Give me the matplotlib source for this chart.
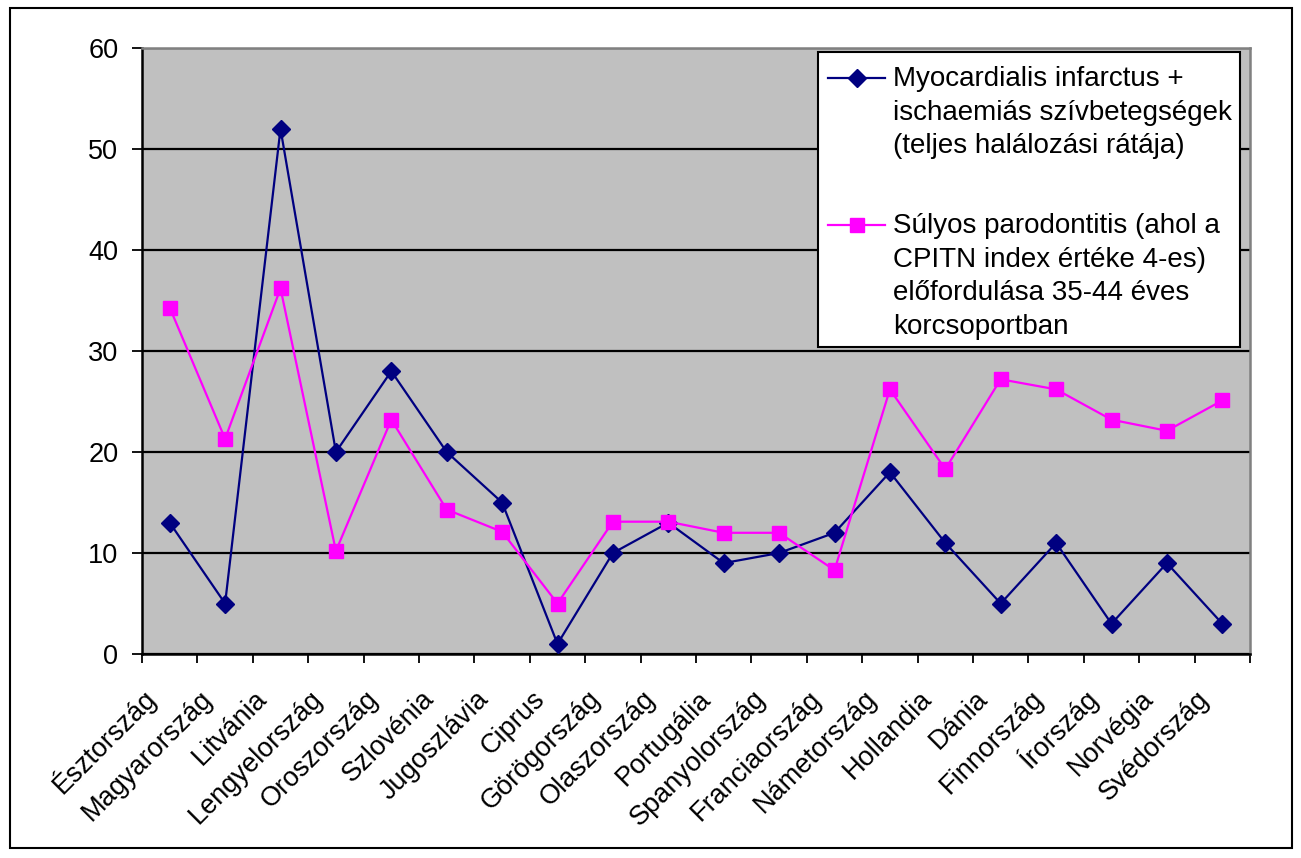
#------------------------------------------------------------------------------
# IMPORTS
#------------------------------------------------------------------------------
import matplotlib
matplotlib.use("Agg")
from matplotlib import pyplot as plt
from matplotlib.patches import Rectangle
from matplotlib.lines import Line2D
from matplotlib.transforms import ScaledTranslation
import numpy as np

#------------------------------------------------------------------------------
# DATA
#------------------------------------------------------------------------------
countries = ["Észtország", "Magyarország", "Litvánia", "Lengyelország",
             "Oroszország", "Szlovénia", "Jugoszlávia", "Ciprus",
             "Görögország", "Olaszország", "Portugália", "Spanyolország",
             "Franciaország", "Námetország", "Hollandia", "Dánia",
             "Finnország", "Írország", "Norvégia", "Svédország"]

infarctus = [13, 5, 52, 20, 28, 20, 15, 1, 10, 13,
             9, 10, 12, 18, 11, 5, 11, 3, 9, 3]

parodontitis = [34.3, 21.3, 36.2, 10.2, 23.2, 14.3, 12.1, 5, 13.1, 13.1,
                12, 12, 8.3, 26.2, 18.3, 27.2, 26.2, 23.2, 22.1, 25.1]

label_inf = ("Myocardialis infarctus +\nischaemiás szívbetegségek\n"
             "(teljes halálozási rátája)")
label_par = ("Súlyos parodontitis (ahol a\nCPITN index értéke 4-es)\n"
             "előfordulása 35-44 éves\nkorcsoportban")

NAVY = "#000080"
MAGENTA = "#FF00FF"
W, H = 1301, 858

#------------------------------------------------------------------------------
# FUNCTIONS
#------------------------------------------------------------------------------
def px(x, y):
    """ Pixel position (from top left) to figure fraction. """
    return x / W, 1 - y / H


def legend_entry(fig, y_handle, y_top, color, marker, ms, label):
    x0, yh = px(828, y_handle)
    x1, _ = px(885, y_handle)
    xm, _ = px(857, y_handle)
    fig.add_artist(Line2D([x0, x1], [yh, yh], transform=fig.transFigure,
                          color=color, linewidth=1.6, zorder=6))
    fig.add_artist(Line2D([xm], [yh], transform=fig.transFigure,
                          color=color, marker=marker, markersize=ms,
                          linestyle="none", zorder=7))
    tx, ty = px(893, y_top)
    fig.text(tx, ty, label, fontsize=20, va="top", ha="left",
             linespacing=1.38, zorder=6)

#------------------------------------------------------------------------------
# MAIN
#------------------------------------------------------------------------------
def main():

    plt.rcParams['font.family'] = ['Liberation Sans', 'DejaVu Sans']

    fig = plt.figure(figsize=(W / 100, H / 100), dpi=100)
    ax = fig.add_axes([142/W, 1 - 654/H, (1250-142)/W, (654-48)/H])
    ax.set_facecolor("#C0C0C0")

    x = np.arange(len(countries))
    ax.plot(x, infarctus, color=NAVY, marker="D", markersize=9,
            linewidth=1.6, zorder=3)
    ax.plot(x, parodontitis, color=MAGENTA, marker="s", markersize=9.5,
            linewidth=1.6, zorder=3)

    ax.set_xlim(-0.5, len(countries) - 0.5)
    ax.set_ylim(0, 60)
    ax.set_yticks(range(0, 61, 10))
    ax.yaxis.grid(True, color="black", linewidth=1.6)
    ax.set_axisbelow(True)

    # Category labels at centres, tick marks at boundaries
    ax.set_xticks(x)
    ax.set_xticklabels(countries, rotation=45, ha="right", va="baseline",
                       rotation_mode="anchor", fontsize=19.5)
    ax.set_xticks(np.arange(-0.5, len(countries)), minor=True)
    ax.tick_params(axis="x", which="major", length=0, pad=33)
    ax.tick_params(axis="x", which="minor", length=6.5, width=1.3,
                   direction="out")
    ax.tick_params(axis="y", length=7, width=1.3, labelsize=19.5, pad=10)
    shift = ScaledTranslation(-0.12, 0, fig.dpi_scale_trans)
    for lab in ax.get_xticklabels():
        lab.set_transform(lab.get_transform() + shift)

    for side in ("left", "bottom"):
        ax.spines[side].set_color("black")
        ax.spines[side].set_linewidth(1.8)
    for side in ("top", "right"):
        ax.spines[side].set_color("#808080")
        ax.spines[side].set_linewidth(1.8)

    # Legend box, drawn by hand so the handles sit on the first text line
    bx, by = px(818, 347)
    fig.add_artist(Rectangle((bx, by), (1240-818)/W, (347-52)/H,
                             transform=fig.transFigure, facecolor="white",
                             edgecolor="black", linewidth=1.5, zorder=5))
    legend_entry(fig, 78, 66, NAVY, "D", 9, label_inf)
    legend_entry(fig, 225, 213, MAGENTA, "s", 9.5, label_par)

    # Outer chart frame
    fig.add_artist(Rectangle((10/W, 1 - 848/H), 1282/W, 840/H,
                             transform=fig.transFigure, fill=False,
                             edgecolor="black", linewidth=1.5))

    fig.savefig("out.png", dpi=100)

#------------------------------------------------------------------------------
if __name__ == '__main__':
    main()
